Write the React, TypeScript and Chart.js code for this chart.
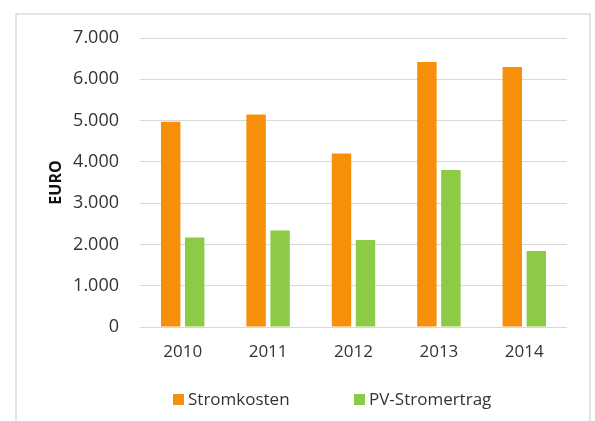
import React, { useEffect, useRef } from "react";
import { Chart, registerables } from "chart.js";

Chart.register(...registerables);

const categories = ["2010", "2011", "2012", "2013", "2014"];
const stromkosten = [4970, 5150, 4200, 6420, 6300];
const pvStromertrag = [2170, 2340, 2110, 3800, 1840];
const seriesNames = ["Stromkosten", "PV-Stromertrag"];
const yAxisTitle = "EURO";

const ORANGE = "#F6900B";
const GREEN = "#8DCB47";
const TEXT = "#333333";
const FONT = "'Open Sans', 'Noto Sans', sans-serif";

const fmt = (v: number) => String(v).replace(/\B(?=(\d{3})+(?!\d))/g, ".");

const framePlugin = {
  id: "frame",
  beforeDraw(chart: any) {
    const ctx = chart.ctx;
    ctx.save();
    ctx.fillStyle = "#ffffff";
    ctx.fillRect(0, 0, chart.width, chart.height);
    ctx.strokeStyle = "#dcdcdc";
    ctx.lineWidth = 1.5;
    ctx.strokeRect(16, 14, 574, 420);
    ctx.restore();
  },
};

const legendPlugin = {
  id: "customLegend",
  afterDraw(chart: any) {
    const ctx = chart.ctx;
    const xs = [173, 354];
    const y = 400;
    ctx.save();
    ctx.font = `17px ${FONT}`;
    ctx.textBaseline = "middle";
    chart.data.datasets.forEach((ds: any, i: number) => {
      ctx.fillStyle = ds.backgroundColor;
      ctx.fillRect(xs[i], y - 6, 11, 11);
      ctx.fillStyle = TEXT;
      ctx.fillText(ds.label, xs[i] + 15, y);
    });
    ctx.restore();
  },
};

export default function App() {
  const ref = useRef<HTMLCanvasElement>(null);
  useEffect(() => {
    document.body.style.margin = "0";
    const chart = new Chart(ref.current!, {
      type: "bar",
      data: {
        labels: categories,
        datasets: [
          {
            label: seriesNames[0],
            data: stromkosten,
            backgroundColor: ORANGE,
            categoryPercentage: 0.562,
            barPercentage: 0.81,
          },
          {
            label: seriesNames[1],
            data: pvStromertrag,
            backgroundColor: GREEN,
            categoryPercentage: 0.562,
            barPercentage: 0.81,
          },
        ],
      },
      options: {
        animation: false,
        responsive: false,
        maintainAspectRatio: false,
        layout: { padding: { left: 30, top: 38, right: 28, bottom: 54 } },
        plugins: {
          legend: { display: false },
          tooltip: { enabled: false },
        },
        scales: {
          x: {
            grid: { display: false, drawTicks: false },
            border: { display: false },
            ticks: { color: TEXT, font: { family: FONT, size: 17 }, padding: 15 },
            afterFit: (s: any) => {
              s.height = 40;
            },
          },
          y: {
            min: 0,
            max: 7000,
            ticks: {
              stepSize: 1000,
              color: TEXT,
              font: { family: FONT, size: 18 },
              padding: 21,
              callback: (v: any) => fmt(Number(v)),
            },
            grid: { color: "#d9d9d9", lineWidth: 1, drawTicks: false },
            border: { display: false },
            title: {
              display: true,
              text: yAxisTitle,
              color: "#111111",
              font: { family: FONT, size: 16, weight: "bold" },
              padding: { top: 17, bottom: 0 },
            },
            afterFit: (s: any) => {
              s.width = 110;
            },
          },
        },
      },
      plugins: [framePlugin, legendPlugin],
    });
    return () => chart.destroy();
  }, []);
  return <canvas ref={ref} width={595} height={421} style={{ display: "block" }} />;
}
